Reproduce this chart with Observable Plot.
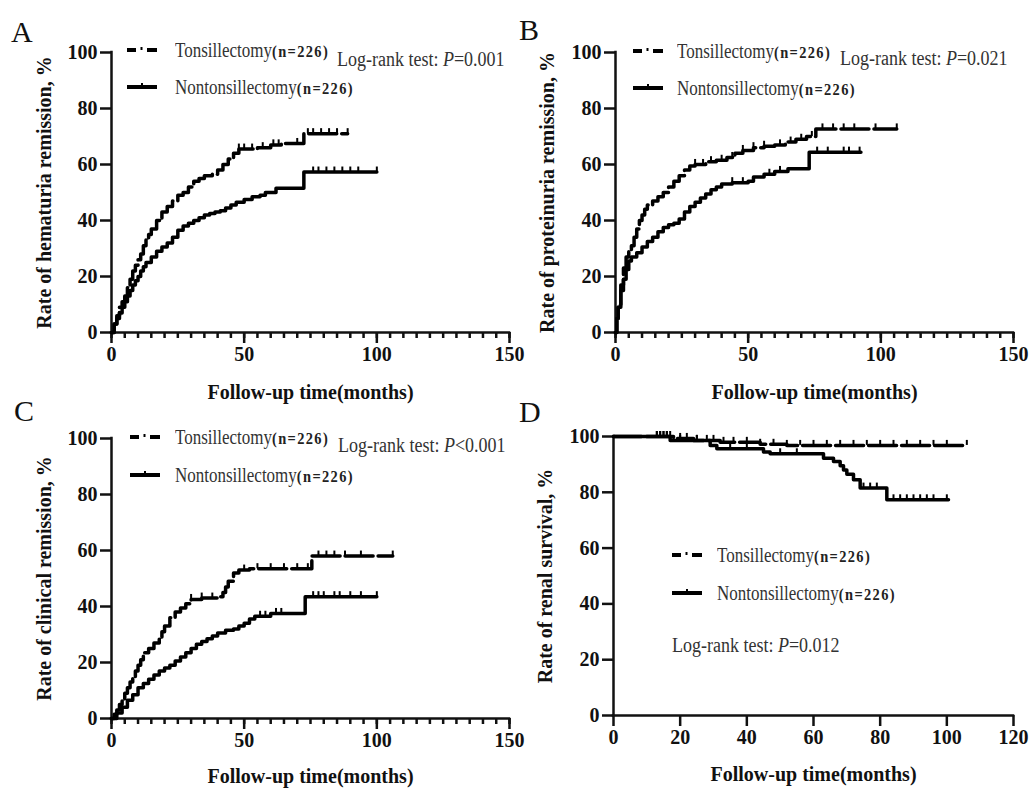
<!DOCTYPE html>
<html><head><meta charset="utf-8">
<script src="https://cdn.jsdelivr.net/npm/d3@7"></script>
<script src="https://cdn.jsdelivr.net/npm/@observablehq/plot@0.6"></script>
<style>
body{margin:0;background:#fff;}
#fig{position:relative;width:1032px;height:788px;background:#fff;overflow:hidden;font-family:"Liberation Serif","Times New Roman",serif;}
.panel{position:absolute;}
.panel svg{overflow:visible;}
.letter{position:absolute;font-size:30px;line-height:1;color:#111;}
.leg{position:absolute;font-size:20px;color:#333;white-space:nowrap;line-height:1;transform:scaleX(0.85);transform-origin:0 0;}
.leg b{font-size:17px;letter-spacing:1.6px;color:#222;}
.lr{position:absolute;font-size:20px;color:#333;white-space:nowrap;line-height:1;transform:scaleX(0.9);transform-origin:0 0;}
.sw{position:absolute;overflow:visible;}
</style></head>
<body><div id="fig"></div>
<script>
// ---------- DATA ----------
// Panel A: hematuria remission (%)
const aTonT = [0,1,2,3,4,5,6,7,8,9,10,11,12,13,14,15,17,19,21,23,25,27,29,31,33,35,38,40,42,44,46,48,55,60,64,72.5,89];
const aTonV = [0,3,6,9,11,13,16,19,22,24,26,28,31,33,35,37,40,43,45,47,49,50,52,54,55,56,56.5,58,60,62,64,65.5,66,67,67.5,71,71];
const aTonC = [48,50,53,57,61,63,70,74,76,79,82,85,89];
const aNonT = [0,1,2,3,4,5,6,7,8,9,10,11,12,13,15,17,19,21,23,25,27,29,31,33,35,37,39,41,43,45,47,50,53,56,58,62,72.5,100];
const aNonV = [0,3,5,7,9,11,13,15,17,18.5,20,22,23.5,25,27,29,30.5,32,34,36.5,38,39,40,41,42,42.5,43,43.5,44.5,45.5,46.5,47.5,48.5,49,50,51.5,57.3,57.3];
const aNonC = [76,78,81,84,87,90,93,100];

// Panel B: proteinuria remission (%)
const bTonT = [0,0.5,1,2,3,4,5,6,7,8,9,10,11,12,14,16,18,20,22,24,26,28,30,34,38,42,45,48,52,56,60,64,68,72,75.5,106];
const bTonV = [0,5,10,17,23,27,29,31,34,37,40,42,44,45.5,47,48.5,50,52,54,56,58,59.5,60,61,61.5,62.5,64,65,66,66.5,67,68,69,70,72.7,72.7];
const bTonC = [30,33,36,40,44,48,52,56,62,66,70,74,78,82,86,90,98,106];
const bNonT = [0,0.5,1,2,3,4,5,6,8,10,12,14,16,18,20,22,24,26,28,30,32,34,36,38,40,44,50,52,56,60,65,73,92.5];
const bNonV = [0,5,9,15,19,22.5,25.5,27,28.5,30.5,32.5,34,36,37.5,38.5,39,40.5,43,45,46.5,48,49.5,51,52,53,53.5,54,55.5,56.5,57.5,58.5,64.4,64.4];
const bNonC = [44,48,58,62,76,80,86,88,92];

// Panel C: clinical remission (%)
const cTonT = [0,1,2,3,4,5,6,7,8,9,10,11,12,14,16,18,19,20,22,24,26,28,30,34,40,42,43,44,46,48,52,75.5,106];
const cTonV = [0,1.5,3,5,7,9,11,13,15,17,19,21,23.5,25,27,29,31,33,36,38,39.5,41,42.5,43,43.5,45,47,49,52,53,53.5,58,58];
const cTonC = [30,34,38,50,55,60,65,70,74,78,81,84,88,94,106];
const cNonT = [0,2,4,6,8,10,12,14,16,18,20,22,24,26,28,30,32,34,36,38,40,43,46,48,50,52,54,60,73,100];
const cNonV = [0,2,4,6.5,8.5,11,12.5,14,15.5,17,18,19,20.5,22,23.5,25,26.5,27.5,28.5,29.5,30.5,31.5,32,33,34,35.5,36.5,37.5,43.5,43.5];
const cNonC = [56,58,62,64,76,78,80,84,86,90,94,100];

// Panel D: renal survival (%)
const dTonT = [0,18,24,32,44,52,106];
const dTonV = [100,99.3,98.6,97.9,97.2,96.8,96.8];
const dTonC = [13,14,15,16,17,20,22,25,28,30,33,36,40,44,48,52,56,60,64,68,72,76,80,84,88,92,96,100,106];
const dNonT = [0,17,29,31,45,47,63,66,68,69,70,72,74,82,100.5];
const dNonV = [100,98.6,96.8,95.6,94.4,93.8,92.2,91,89.5,88,86.5,84.5,81.5,77.3,77.3];
const dNonC = [13,14,15,16,17,20,25,35,40,50,55,75,77,79,84,86,88,90,92,94,96,100];

const yTicks = [0,20,40,60,80,100];
const xTicksABC = [0,50,100,150];
const xMinorABC = d3.range(0,151,5);
const xTicksD = [0,20,40,60,80,100,120];
const ton = "Tonsillectomy", non = "Nontonsillectomy", nLabel = "(n=226)";

// ---------- helpers ----------
const rows = (T,V) => T.map((t,i)=>({t, v:V[i]}));
const censorRows = (T,V,C) => C.map(c => { const i = d3.bisectRight(T,c)-1; return {t:c, v:V[Math.max(0,i)]}; });

function makePanel(cfg){
  const marks = [];
  if (cfg.minor) marks.push(Plot.axisX({ticks: cfg.minor, tickSize: 6, tickFormat: () => "", strokeWidth: 2.5, label: null}));
  marks.push(
    Plot.axisX({ticks: cfg.xTicks, tickSize: 11, tickPadding: 3, strokeWidth: 2.5, tickFormat: d3.format("d"),
      label: "Follow-up time(months)", labelAnchor: "center", labelOffset: cfg.xLabelOffset, labelArrow: "none"}),
    Plot.axisY({ticks: yTicks, tickSize: 11, tickPadding: 3, strokeWidth: 2.5, tickFormat: d3.format("d"),
      label: cfg.ylabel, labelAnchor: "center", labelOffset: cfg.yLabelOffset, labelArrow: "none"}),
    Plot.ruleX([0], {strokeWidth: 2.5, strokeLinecap: "square"}),
    Plot.ruleY([0], {strokeWidth: 2.5, strokeLinecap: "square"}),
    Plot.line(rows(cfg.nonT, cfg.nonV), {x:"t", y:"v", curve:"step-after", stroke:"#000", strokeWidth:3.5}),
    Plot.line(rows(cfg.tonT, cfg.tonV), {x:"t", y:"v", curve:"step-after", stroke:"#000", strokeWidth:3.5, strokeDasharray:"28,5"}),
    Plot.ruleX(censorRows(cfg.nonT, cfg.nonV, cfg.nonC), {x:"t", y1:"v", y2: d => d.v + 1.8, stroke:"#000", strokeWidth:2}),
    Plot.ruleX(censorRows(cfg.tonT, cfg.tonV, cfg.tonC), {x:"t", y1:"v", y2: d => d.v + 1.8, stroke:"#000", strokeWidth:2})
  );
  const svg = Plot.plot({
    width: cfg.w, height: cfg.h,
    marginLeft: cfg.ml, marginRight: cfg.mr, marginTop: cfg.mt, marginBottom: cfg.mb,
    style: {fontFamily: '"Liberation Serif","Times New Roman",serif', fontSize: "20px", fontWeight: "bold", color: "#111", background: "transparent", overflow: "visible"},
    x: {domain: cfg.xDomain},
    y: {domain: [0,100]},
    marks
  });
  const div = document.createElement("div");
  div.className = "panel";
  div.style.left = cfg.left + "px"; div.style.top = cfg.top + "px";
  div.appendChild(svg);
  fig.appendChild(div);
}

function addText(cls, html, x, y){
  const d = document.createElement("div"); d.className = cls; d.innerHTML = html;
  d.style.left = x + "px"; d.style.top = y + "px"; fig.appendChild(d);
}
function swatch(x, y, dashed){
  const ns = "http://www.w3.org/2000/svg";
  const s = document.createElementNS(ns, "svg");
  s.setAttribute("class","sw"); s.setAttribute("width",30); s.setAttribute("height",12);
  s.style.left = x + "px"; s.style.top = (y-6) + "px";
  const add = (tag, attrs) => { const e = document.createElementNS(ns, tag); for (const k in attrs) e.setAttribute(k, attrs[k]); s.appendChild(e); };
  if (dashed){
    add("line",{x1:0,y1:6,x2:9,y2:6,stroke:"#000","stroke-width":4});
    add("line",{x1:14.5,y1:3,x2:14.5,y2:6,stroke:"#000","stroke-width":2});
    add("line",{x1:20,y1:6,x2:30,y2:6,stroke:"#000","stroke-width":4});
  } else {
    add("line",{x1:0,y1:6,x2:30,y2:6,stroke:"#000","stroke-width":4});
    add("line",{x1:15,y1:2,x2:15,y2:6,stroke:"#000","stroke-width":2});
  }
  fig.appendChild(s);
}
function legend(lx, tx, y1, y2){
  swatch(lx, y1, true); swatch(lx, y2, false);
  addText("leg", ton + "<b>" + nLabel + "</b>", tx, y1 - 10);
  addText("leg", non + "<b>" + nLabel + "</b>", tx, y2 - 10);
}

const fig = document.getElementById("fig");

makePanel({left:0, top:0, w:516, h:400, ml:111, mr:7, mt:52, mb:68, xDomain:[0,150], xTicks:xTicksABC, minor:xMinorABC,
  ylabel:"Rate of hematuria remission, %", xLabelOffset:66, yLabelOffset:75,
  tonT:aTonT, tonV:aTonV, tonC:aTonC, nonT:aNonT, nonV:aNonV, nonC:aNonC});
makePanel({left:516, top:0, w:516, h:400, ml:99, mr:19, mt:52, mb:68, xDomain:[0,150], xTicks:xTicksABC, minor:xMinorABC,
  ylabel:"Rate of proteinuria remission, %", xLabelOffset:66, yLabelOffset:76,
  tonT:bTonT, tonV:bTonV, tonC:bTonC, nonT:bNonT, nonV:bNonV, nonC:bNonC});
makePanel({left:0, top:386, w:516, h:402, ml:111, mr:7, mt:52, mb:70, xDomain:[0,150], xTicks:xTicksABC, minor:xMinorABC,
  ylabel:"Rate of clinical remission, %", xLabelOffset:64, yLabelOffset:75,
  tonT:cTonT, tonV:cTonV, tonC:cTonC, nonT:cNonT, nonV:cNonV, nonC:cNonC});
makePanel({left:516, top:386, w:516, h:402, ml:97, mr:19, mt:50, mb:73, xDomain:[0,120], xTicks:xTicksD, minor:null,
  ylabel:"Rate of renal survival, %", xLabelOffset:65, yLabelOffset:76,
  tonT:dTonT, tonV:dTonV, tonC:dTonC, nonT:dNonT, nonV:dNonV, nonC:dNonC});

// panel letters
addText("letter","A",11,17); addText("letter","B",519,15);
addText("letter","C",14,396); addText("letter","D",519,397);

// legends
legend(127, 175, 50, 87);
addText("lr","Log-rank test: <i>P</i>=0.001",337,49);
legend(633, 677, 51, 88);
addText("lr","Log-rank test: <i>P</i>=0.021",840,48);
legend(130, 175, 437, 475);
addText("lr","Log-rank test: <i>P</i>&lt;0.001",338,435);
legend(672, 717, 555, 593);
addText("lr","Log-rank test: <i>P</i>=0.012",672,635);
</script></body></html>
